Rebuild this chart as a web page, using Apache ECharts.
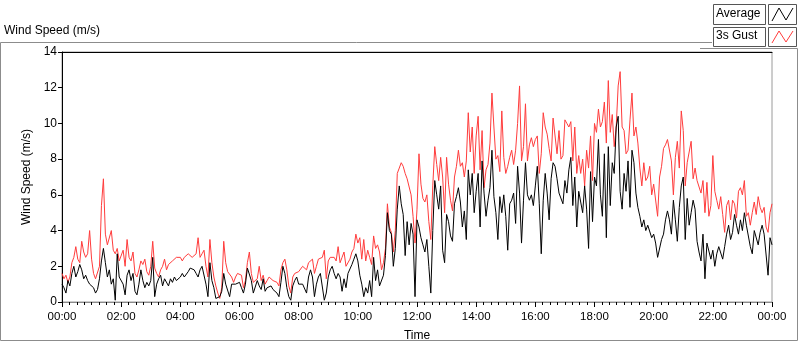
<!DOCTYPE html>
<html>
<head>
<meta charset="utf-8">
<title>Wind Speed</title>
<script src="https://cdn.jsdelivr.net/npm/echarts@6/dist/echarts.min.js"></script>
<style>
  html, body { margin: 0; padding: 0; background: #fff; }
  #chart { width: 800px; height: 342px; }
</style>
</head>
<body>
<div id="chart"></div>
<script>
// samples every 4 minutes, 00:00 .. 24:00 (one row per hour)
var stepMinutes = 4;

var gust = [
  1.6, 1.3, 1.5, 1.1, 1.4, 2.2, 2.5, 3.1, 2.4, 2.2, 3.4, 2.8, 2.5, 2.7, 4.0,
  2.4, 1.6, 1.3, 1.2, 2.0, 5.4, 6.9, 3.8, 3.2, 3.3, 4.0, 2.9, 2.7, 3.0, 2.3,
  2.4, 2.9, 2.0, 3.5, 2.5, 2.3, 2.8, 1.6, 1.4, 1.8, 2.3, 2.1, 2.4, 1.7, 1.5,
  2.0, 3.4, 1.9, 1.6, 1.4, 1.8, 2.0, 2.4, 1.8, 2.1, 2.0, 2.3, 2.2, 2.5, 2.4,
  2.5, 2.3, 2.5, 2.6, 2.7, 2.6, 2.5, 2.6, 2.7, 3.6, 2.5, 2.7, 2.9, 2.0, 1.4,
  3.5, 2.2, 1.4, 0.9, 0.5, 0.2, 0.8, 3.4, 2.2, 1.7, 1.8, 1.4, 1.1, 1.4, 1.6,
  1.7, 1.5, 0.8, 1.2, 2.2, 2.8, 1.6, 1.1, 1.0, 1.3, 2.0, 1.2, 1.5, 1.0, 1.2,
  1.4, 1.3, 1.2, 1.3, 1.1, 0.9, 1.8, 2.2, 2.4, 1.8, 0.9, 0.5, 1.4, 1.6, 1.7,
  1.7, 1.6, 2.0, 2.1, 1.8, 2.2, 2.3, 2.4, 1.6, 2.0, 2.4, 2.3, 2.5, 2.9, 1.3,
  2.3, 2.5, 2.4, 2.5, 2.3, 3.1, 2.2, 2.5, 2.8, 2.0, 1.9, 2.4, 2.8, 3.0, 3.8,
  3.3, 3.6, 2.4, 3.5, 2.3, 2.9, 2.5, 2.1, 3.7, 3.0, 3.2, 2.8, 1.8, 2.2, 3.0,
  5.5, 4.2, 3.9, 2.8, 4.0, 7.2, 7.5, 7.8, 7.6, 7.2, 6.9, 7.0, 6.0, 4.8, 3.3,
  5.2, 8.3, 6.6, 5.8, 5.6, 6.0, 4.5, 3.5, 6.5, 8.7, 7.7, 6.8, 8.1, 7.0, 5.0,
  8.1, 6.6, 5.7, 5.1, 7.0, 7.6, 8.5, 7.6, 7.8, 7.0, 7.9, 10.6, 8.4, 9.8, 7.2,
  9.3, 10.4, 7.4, 9.6, 6.4, 7.4, 7.7, 8.9, 11.7, 9.8, 8.0, 8.2, 7.3, 10.7, 8.1,
  7.2, 7.6, 8.1, 8.5, 7.7, 8.5, 10.0, 12.1, 7.9, 8.7, 11.1, 7.9, 8.8, 9.2, 8.7,
  9.1, 9.3, 7.2, 8.3, 10.6, 9.8, 9.4, 8.6, 7.9, 10.3, 10.4, 8.3, 9.6, 8.0, 8.2,
  10.2, 10.0, 9.8, 10.1, 7.9, 9.8, 7.2, 8.2, 7.2, 8.0, 6.5, 8.5, 7.5, 9.3, 6.8,
  10.0, 9.5, 10.8, 9.8, 10.1, 11.2, 8.9, 12.4, 9.5, 10.5, 8.7, 9.8, 12.1, 12.9, 9.8,
  9.6, 8.3, 8.5, 10.2, 11.7, 9.3, 9.8, 8.9, 7.5, 6.5, 7.8, 6.8, 7.0, 7.6, 6.0,
  6.6, 6.5, 4.8, 7.0, 7.6, 8.6, 8.8, 9.1, 9.0, 7.9, 6.0, 8.1, 9.0, 7.5, 10.7,
  9.6, 6.5, 7.8, 7.9, 9.0, 6.9, 7.5, 6.8, 6.7, 6.1, 6.8, 5.0, 6.7, 4.8, 5.4,
  8.2, 6.2, 5.7, 5.2, 5.9, 4.9, 3.9, 5.4, 5.7, 4.6, 5.7, 5.5, 4.7, 6.2, 6.4,
  6.0, 6.8, 4.8, 5.0, 4.3, 5.0, 5.6, 4.9, 5.9, 5.3, 5.0, 5.3, 4.2, 3.9, 5.0,
  5.5
];

var average = [
  1.0, 0.8, 0.5, 1.2, 0.9, 1.6, 2.0, 1.4, 1.7, 2.1, 1.8, 1.3, 1.5, 1.2, 1.0,
  1.0, 0.8, 0.5, 0.7, 1.3, 2.3, 3.0, 2.2, 1.4, 1.8, 1.0, 1.3, 0.1, 2.7, 1.4,
  1.4, 1.0, 0.4, 1.5, 1.8, 1.2, 1.6, 0.6, 0.4, 1.0, 1.8, 1.2, 0.8, 1.1, 0.9,
  1.2, 2.5, 0.3, 1.0, 1.3, 1.5, 0.9, 1.3, 1.2, 0.9, 1.3, 1.1, 1.4, 1.2, 1.3,
  1.4, 1.6, 1.4, 1.3, 1.7, 1.9, 2.0, 1.8, 1.6, 1.4, 1.8, 2.0, 2.1, 1.0, 0.3,
  2.2, 1.2, 0.8, 0.2, 0.1, 0.3, 0.6, 1.6, 1.0, 1.1, 0.3, 1.0, 0.9, 1.0, 1.1,
  1.1, 0.8, 0.5, 1.0, 1.9, 2.0, 1.2, 0.5, 0.6, 1.2, 0.9, 0.7, 1.3, 0.6, 0.8,
  0.8, 0.9, 0.7, 0.6, 0.5, 0.3, 1.1, 2.0, 1.6, 0.8, 0.3, 0.1, 0.9, 1.2, 1.4,
  1.0, 1.1, 1.0, 1.1, 0.5, 1.4, 1.8, 1.4, 0.3, 1.0, 1.4, 1.6, 1.7, 0.1, 0.5,
  1.4, 1.8, 2.0, 1.6, 1.3, 1.6, 1.4, 0.6, 1.3, 0.8, 1.6, 1.5, 2.1, 2.4, 2.7,
  2.3, 1.5, 1.0, 0.3, 0.8, 0.5, 1.2, 0.3, 2.5, 1.2, 1.8, 0.9, 0.8, 1.5, 2.6,
  5.0, 4.0, 3.8, 2.0, 3.0, 5.2, 6.5, 5.5, 4.9, 2.6, 4.5, 3.2, 4.4, 3.8, 0.3,
  4.6, 4.2, 3.6, 3.2, 2.8, 3.5, 2.0, 0.5, 4.0, 6.8, 6.0, 5.2, 6.5, 2.9, 2.2,
  4.9, 4.5, 3.7, 3.4, 5.5, 5.9, 6.4, 5.6, 4.2, 5.1, 3.5, 7.4, 6.0, 7.2, 5.0,
  6.2, 7.2, 4.2, 7.9, 6.1, 4.8, 5.7, 6.4, 8.5, 5.9, 5.0, 3.5, 5.9, 5.0, 6.0,
  4.8, 2.9, 5.5, 5.7, 6.1, 4.4, 7.6, 6.1, 3.3, 5.7, 7.8, 6.0, 5.7, 6.0, 5.4,
  6.5, 7.6, 5.5, 2.7, 5.7, 7.2, 6.1, 4.6, 6.9, 7.8, 7.6, 6.9, 6.1, 6.0, 5.5,
  6.8, 6.1, 7.4, 8.1, 5.4, 7.0, 4.2, 6.2, 6.3, 5.0, 6.5, 5.2, 3.0, 7.3, 4.5,
  7.0, 6.5, 9.1, 6.0, 4.8, 8.3, 3.6, 8.7, 5.4, 7.8, 7.2, 9.8, 10.4, 6.2, 5.2,
  7.2, 6.2, 7.9, 5.3, 8.5, 7.8, 6.1, 5.3, 4.8, 4.2, 4.6, 4.0, 4.3, 4.2, 3.6,
  3.8, 3.3, 2.5, 2.4, 3.5, 3.8, 4.6, 5.1, 4.6, 3.8, 5.7, 4.6, 3.4, 5.3, 6.5,
  7.0, 3.5, 5.8, 4.3, 5.0, 5.7, 5.2, 3.4, 2.8, 2.3, 3.8, 1.3, 3.3, 3.2, 2.4,
  2.9, 2.0, 2.7, 3.1, 3.1, 2.4, 3.1, 3.8, 4.3, 3.5, 3.9, 4.9, 4.3, 3.8, 4.6,
  4.0, 5.0, 4.3, 4.3, 3.1, 2.7, 4.0, 4.0, 3.2, 3.9, 4.3, 3.8, 3.7, 1.5, 3.6,
  3.2
];

var yTicks = [0, 14, 2];          // min, max, step
var xTicks = [0, 1440, 120];      // minutes

var FONT = '"Liberation Sans", Arial, sans-serif';

function toPairs(values) {
  return values.map(function (v, i) { return [i * stepMinutes, v]; });
}

function timeLabel(m) {
  var h = Math.floor(m / 60) % 24;
  return (h < 10 ? '0' : '') + h + ':00';
}

var chart = echarts.init(document.getElementById('chart'), null, { renderer: 'canvas' });

var option = {
  animation: false,
  backgroundColor: '#fff',
  textStyle: { fontFamily: FONT, color: '#000' },
  grid: {
    left: 62, right: 28, top: 52, bottom: 40,
    outerBoundsMode: 'none', containLabel: false,
    show: true, borderColor: '#9a9a9a', borderWidth: 1, backgroundColor: '#fff'
  },
  xAxis: [{
    type: 'value',
    min: xTicks[0], max: xTicks[1], interval: xTicks[2],
    name: 'Time', nameLocation: 'middle', nameGap: 28,
    nameTextStyle: { fontFamily: FONT, fontSize: 12, color: '#000' },
    axisLine: { show: true, onZero: false, lineStyle: { color: '#8a8a8a', width: 1 } },
    axisTick: { show: true, length: 5, lineStyle: { color: '#000' } },
    minorTick: { show: true, splitNumber: 8, length: 3, lineStyle: { color: '#000' } },
    splitLine: { show: false },
    axisLabel: { formatter: timeLabel, fontFamily: FONT, fontSize: 11.5, color: '#000', margin: 9 }
  }, {
    type: 'value', position: 'top',
    min: xTicks[0], max: xTicks[1],
    axisLine: { show: true, onZero: false, lineStyle: { color: '#000', width: 1 } },
    axisTick: { show: false }, axisLabel: { show: false }, splitLine: { show: false }
  }],
  yAxis: {
    type: 'value',
    min: yTicks[0], max: yTicks[1], interval: yTicks[2],
    name: 'Wind Speed (m/s)', nameLocation: 'middle', nameGap: 21, nameRotate: 90,
    nameTextStyle: { fontFamily: FONT, fontSize: 12, color: '#000' },
    axisLine: { show: true, lineStyle: { color: '#000', width: 1 } },
    axisTick: { show: true, length: 4, lineStyle: { color: '#000' } },
    splitLine: { show: false },
    axisLabel: { fontFamily: FONT, fontSize: 12, color: '#000', margin: 5 }
  },
  series: [{
    name: '3s Gust', type: 'line', data: toPairs(gust),
    showSymbol: false, symbol: 'none',
    lineStyle: { color: '#ff3c3c', width: 1 }, z: 2
  }, {
    name: 'Average', type: 'line', data: toPairs(average),
    showSymbol: false, symbol: 'none',
    lineStyle: { color: '#000', width: 1 }, z: 3
  }],
  graphic: [
    // outer panel frame
    { type: 'polyline', shape: { points: [[712, 42.5], [0.5, 42.5], [0.5, 340.5], [797.5, 340.5], [797.5, 48.5], [700, 48.5]] },
      style: { fill: null, stroke: '#8c8c8c', lineWidth: 1 }, silent: true },
    { type: 'text', left: 4, top: 25,
      style: { text: 'Wind Speed (m/s)', fontFamily: FONT, fontSize: 12, fill: '#000' } },
    // legend
    { type: 'rect', shape: { x: 713.5, y: 4.5, width: 52, height: 20 }, style: { fill: '#fff', stroke: '#555', lineWidth: 1 } },
    { type: 'text', left: 716, top: 8, style: { text: 'Average', fontFamily: FONT, fontSize: 12, fill: '#000' } },
    { type: 'rect', shape: { x: 768.5, y: 4.5, width: 28, height: 20 }, style: { fill: '#fff', stroke: '#555', lineWidth: 1 } },
    { type: 'polyline', shape: { points: [[772, 21], [779, 8], [786, 20], [793, 8]] }, style: { fill: null, stroke: '#000', lineWidth: 1 } },
    { type: 'rect', shape: { x: 713.5, y: 27.5, width: 52, height: 19 }, style: { fill: '#fff', stroke: '#555', lineWidth: 1 } },
    { type: 'text', left: 716, top: 30, style: { text: '3s Gust', fontFamily: FONT, fontSize: 12, fill: '#000' } },
    { type: 'rect', shape: { x: 768.5, y: 27.5, width: 28, height: 19 }, style: { fill: '#fff', stroke: '#555', lineWidth: 1 } },
    { type: 'polyline', shape: { points: [[772, 43], [779, 31], [786, 42], [793, 31]] }, style: { fill: null, stroke: '#ff3c3c', lineWidth: 1 } }
  ]
};

chart.setOption(option);
</script>
</body>
</html>
